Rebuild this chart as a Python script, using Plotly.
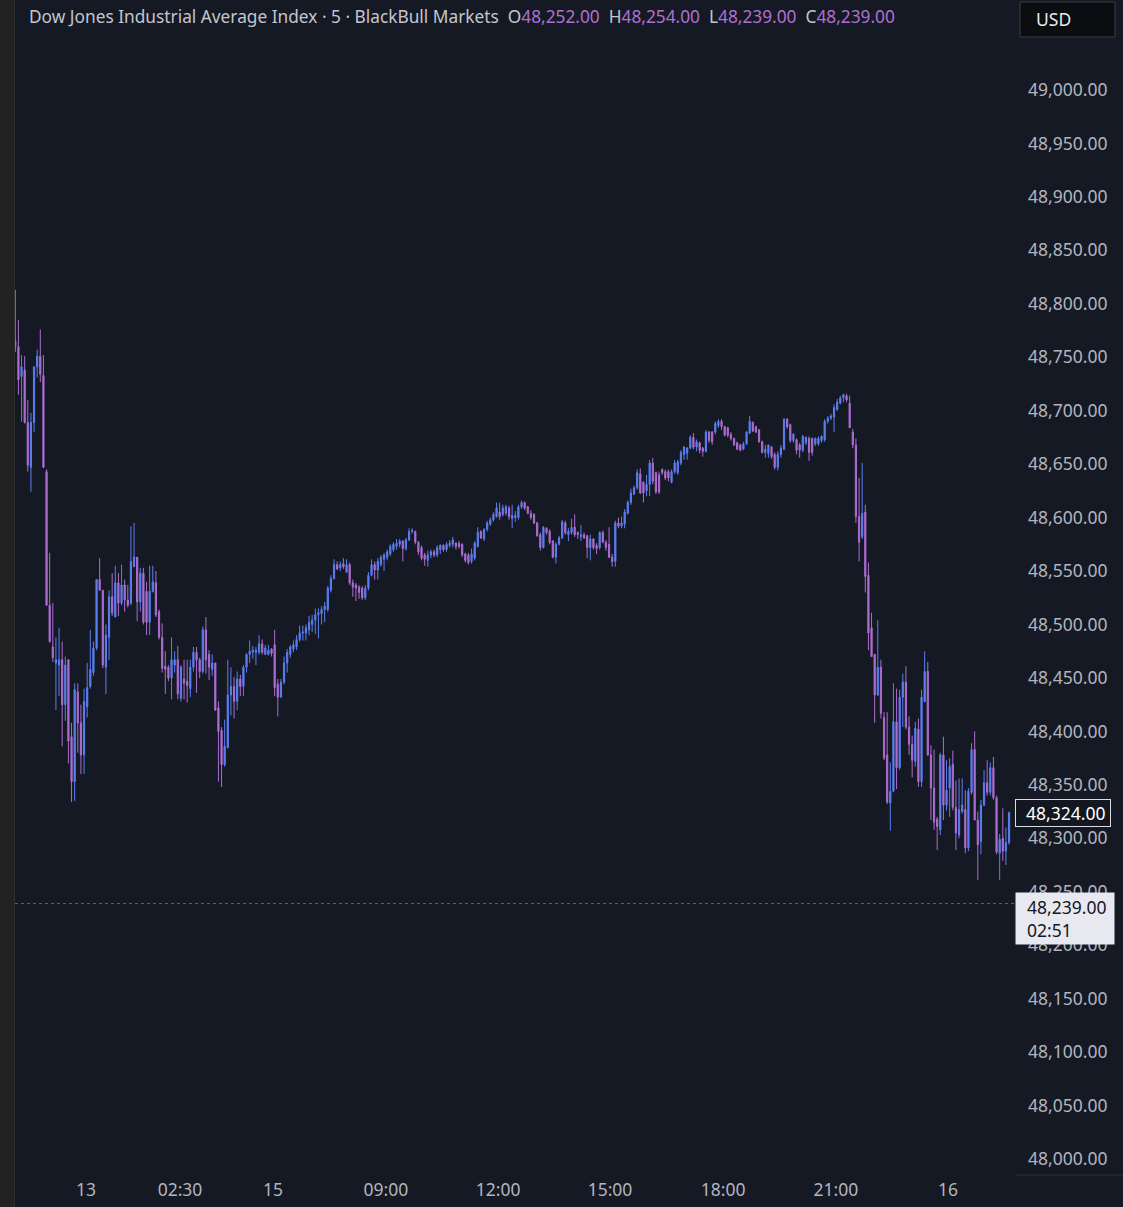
import plotly.graph_objects as go

# Dow Jones Industrial Average Index, 5-minute candles (BlackBull Markets)
# values, one entry per candle, left to right
opens = [
    48765, 48760, 48732, 48738, 48689, 48647, 48689, 48741, 48751, 48733,
    48643, 48518, 48479, 48464, 48462, 48467, 48425, 48467, 48395, 48353,
    48437, 48408, 48378, 48423, 48442, 48455, 48478, 48542, 48532, 48460,
    48488, 48526, 48507, 48539, 48520, 48537, 48523, 48520, 48554, 48563,
    48521, 48548, 48531, 48502, 48531, 48539, 48512, 48488, 48461, 48460,
    48450, 48462, 48467, 48431, 48449, 48447, 48440, 48460, 48474, 48467,
    48456, 48495, 48472, 48458, 48464, 48422, 48401, 48369, 48385, 48434,
    48442, 48428, 48449, 48442, 48460, 48472, 48474, 48474, 48474, 48482,
    48472, 48472, 48477, 48481, 48444, 48432, 48446, 48464, 48472, 48477,
    48479, 48486, 48492, 48492, 48495, 48500, 48504, 48509, 48510, 48514,
    48514, 48532, 48543, 48556, 48553, 48557, 48549, 48556, 48539, 48537,
    48535, 48534, 48525, 48534, 48546, 48556, 48551, 48556, 48561, 48563,
    48566, 48570, 48573, 48575, 48578, 48571, 48579, 48587, 48587, 48577,
    48572, 48565, 48560, 48565, 48568, 48565, 48570, 48574, 48570, 48574,
    48575, 48576, 48576, 48575, 48566, 48565, 48559, 48562, 48573, 48587,
    48580, 48589, 48594, 48598, 48601, 48605, 48603, 48604, 48609, 48599,
    48600, 48600, 48610, 48614, 48610, 48604, 48603, 48595, 48584, 48572,
    48590, 48587, 48578, 48563, 48575, 48581, 48595, 48584, 48586, 48591,
    48586, 48582, 48584, 48583, 48572, 48580, 48574, 48572, 48586, 48577,
    48575, 48563, 48559, 48595, 48592, 48594, 48604, 48614, 48622, 48628,
    48641, 48633, 48625, 48631, 48651, 48642, 48640, 48645, 48643, 48643,
    48633, 48643, 48642, 48651, 48659, 48660, 48665, 48675, 48666, 48670,
    48665, 48662, 48680, 48680, 48680, 48686, 48690, 48685, 48684, 48678,
    48674, 48670, 48668, 48664, 48669, 48679, 48689, 48685, 48682, 48671,
    48661, 48660, 48666, 48659, 48647, 48659, 48664, 48692, 48687, 48672,
    48673, 48668, 48663, 48670, 48674, 48674, 48669, 48669, 48672, 48673,
    48690, 48693, 48694, 48701, 48707, 48712, 48714, 48707, 48680, 48668,
    48601, 48582, 48605, 48546, 48497, 48472, 48434, 48460, 48413, 48378,
    48333, 48344, 48409, 48366, 48432, 48446, 48404, 48388, 48372, 48402,
    48353, 48428, 48456, 48378, 48347, 48318, 48308, 48378, 48331, 48347,
    48369, 48329, 48303, 48325, 48327, 48291, 48343, 48383, 48317, 48297,
    48331, 48352, 48343, 48366, 48338, 48286, 48300, 48288, 48296,
]
highs = [
    48813, 48785, 48752, 48751, 48710, 48698, 48741, 48757, 48776, 48752,
    48645, 48567, 48520, 48488, 48497, 48484, 48470, 48467, 48408, 48445,
    48445, 48425, 48440, 48464, 48495, 48484, 48542, 48562, 48532, 48500,
    48532, 48548, 48555, 48548, 48556, 48542, 48537, 48592, 48595, 48563,
    48553, 48553, 48540, 48555, 48555, 48550, 48514, 48501, 48475, 48462,
    48488, 48475, 48480, 48462, 48467, 48467, 48467, 48479, 48479, 48469,
    48498, 48507, 48476, 48472, 48464, 48428, 48404, 48411, 48467, 48460,
    48451, 48456, 48453, 48462, 48473, 48485, 48480, 48479, 48490, 48486,
    48481, 48481, 48478, 48495, 48449, 48449, 48470, 48477, 48481, 48485,
    48490, 48499, 48499, 48500, 48508, 48509, 48515, 48515, 48517, 48521,
    48536, 48546, 48561, 48559, 48559, 48562, 48561, 48558, 48542, 48539,
    48537, 48536, 48537, 48549, 48561, 48559, 48562, 48565, 48567, 48570,
    48575, 48577, 48580, 48580, 48579, 48581, 48590, 48590, 48588, 48578,
    48574, 48567, 48569, 48570, 48570, 48574, 48575, 48575, 48577, 48579,
    48582, 48577, 48578, 48576, 48567, 48567, 48571, 48578, 48591, 48588,
    48590, 48597, 48600, 48605, 48614, 48614, 48612, 48612, 48611, 48612,
    48606, 48612, 48616, 48615, 48611, 48607, 48604, 48596, 48586, 48592,
    48591, 48589, 48579, 48577, 48583, 48598, 48597, 48590, 48599, 48603,
    48587, 48593, 48586, 48584, 48584, 48581, 48576, 48587, 48588, 48579,
    48591, 48566, 48597, 48600, 48601, 48608, 48616, 48627, 48630, 48645,
    48646, 48634, 48640, 48654, 48656, 48643, 48643, 48646, 48645, 48645,
    48645, 48654, 48654, 48663, 48667, 48666, 48677, 48679, 48673, 48671,
    48666, 48682, 48681, 48681, 48690, 48692, 48692, 48686, 48685, 48680,
    48675, 48671, 48669, 48671, 48681, 48695, 48690, 48686, 48683, 48672,
    48668, 48668, 48667, 48661, 48662, 48668, 48693, 48693, 48688, 48679,
    48674, 48670, 48677, 48676, 48676, 48675, 48675, 48676, 48677, 48692,
    48695, 48697, 48706, 48711, 48714, 48716, 48716, 48714, 48683, 48674,
    48637, 48651, 48612, 48558, 48511, 48472, 48504, 48467, 48418, 48418,
    48371, 48445, 48440, 48439, 48454, 48461, 48414, 48396, 48409, 48412,
    48439, 48475, 48465, 48387, 48383, 48320, 48380, 48395, 48373, 48375,
    48382, 48354, 48356, 48356, 48345, 48347, 48389, 48400, 48325, 48336,
    48364, 48373, 48371, 48376, 48340, 48304, 48328, 48310, 48325,
]
lows = [
    48755, 48715, 48690, 48688, 48643, 48624, 48680, 48731, 48727, 48647,
    48518, 48483, 48465, 48420, 48433, 48386, 48410, 48370, 48334, 48335,
    48380, 48360, 48360, 48413, 48440, 48452, 48476, 48532, 48459, 48435,
    48467, 48508, 48507, 48508, 48518, 48512, 48516, 48518, 48554, 48503,
    48512, 48500, 48490, 48490, 48530, 48507, 48486, 48455, 48435, 48447,
    48430, 48455, 48430, 48428, 48430, 48427, 48432, 48456, 48436, 48450,
    48454, 48454, 48448, 48452, 48419, 48353, 48348, 48367, 48384, 48415,
    48412, 48420, 48433, 48433, 48455, 48464, 48468, 48462, 48472, 48472,
    48472, 48471, 48470, 48433, 48414, 48432, 48444, 48455, 48469, 48474,
    48476, 48484, 48485, 48485, 48490, 48493, 48491, 48487, 48500, 48502,
    48512, 48530, 48542, 48551, 48550, 48552, 48548, 48537, 48526, 48522,
    48524, 48523, 48523, 48532, 48545, 48542, 48542, 48554, 48550, 48560,
    48564, 48568, 48570, 48572, 48559, 48569, 48578, 48585, 48575, 48565,
    48560, 48555, 48554, 48562, 48563, 48563, 48566, 48568, 48568, 48572,
    48572, 48570, 48571, 48563, 48558, 48556, 48557, 48560, 48572, 48580,
    48578, 48587, 48592, 48596, 48600, 48598, 48601, 48602, 48598, 48590,
    48596, 48598, 48608, 48607, 48603, 48598, 48594, 48582, 48569, 48571,
    48584, 48575, 48562, 48557, 48574, 48580, 48584, 48578, 48584, 48582,
    48580, 48578, 48580, 48562, 48560, 48570, 48566, 48570, 48576, 48569,
    48562, 48554, 48554, 48590, 48590, 48590, 48603, 48612, 48621, 48626,
    48622, 48614, 48620, 48620, 48631, 48622, 48622, 48640, 48635, 48634,
    48632, 48641, 48640, 48649, 48654, 48654, 48664, 48664, 48662, 48660,
    48657, 48661, 48670, 48668, 48678, 48684, 48682, 48676, 48675, 48672,
    48667, 48663, 48662, 48663, 48668, 48678, 48680, 48679, 48670, 48660,
    48656, 48656, 48655, 48645, 48644, 48656, 48663, 48683, 48670, 48670,
    48659, 48656, 48661, 48668, 48653, 48658, 48667, 48667, 48670, 48671,
    48688, 48691, 48680, 48700, 48706, 48708, 48708, 48684, 48665, 48595,
    48559, 48580, 48530, 48476, 48470, 48408, 48433, 48412, 48373, 48332,
    48307, 48343, 48346, 48364, 48404, 48402, 48378, 48357, 48367, 48348,
    48348, 48427, 48377, 48317, 48308, 48289, 48303, 48317, 48326, 48320,
    48326, 48289, 48300, 48323, 48286, 48288, 48341, 48317, 48261, 48285,
    48330, 48340, 48340, 48336, 48285, 48261, 48279, 48275, 48294,
]
closes = [
    48760, 48729, 48741, 48689, 48649, 48689, 48741, 48751, 48734, 48647,
    48518, 48484, 48469, 48467, 48467, 48425, 48462, 48391, 48353, 48439,
    48408, 48378, 48428, 48441, 48458, 48478, 48542, 48532, 48462, 48490,
    48526, 48511, 48539, 48520, 48537, 48523, 48518, 48559, 48563, 48521,
    48548, 48502, 48502, 48531, 48540, 48509, 48488, 48459, 48458, 48450,
    48467, 48467, 48435, 48460, 48445, 48443, 48460, 48474, 48467, 48456,
    48495, 48467, 48460, 48464, 48420, 48400, 48369, 48386, 48434, 48442,
    48428, 48449, 48442, 48460, 48472, 48475, 48476, 48476, 48482, 48474,
    48478, 48476, 48473, 48441, 48432, 48446, 48464, 48474, 48479, 48481,
    48486, 48492, 48493, 48497, 48502, 48504, 48509, 48511, 48514, 48517,
    48534, 48543, 48556, 48552, 48556, 48554, 48556, 48539, 48535, 48534,
    48530, 48525, 48534, 48546, 48556, 48551, 48559, 48563, 48565, 48568,
    48573, 48575, 48576, 48578, 48571, 48579, 48587, 48588, 48577, 48568,
    48562, 48561, 48565, 48568, 48565, 48572, 48574, 48570, 48575, 48576,
    48579, 48573, 48573, 48565, 48560, 48558, 48566, 48576, 48586, 48581,
    48589, 48595, 48598, 48603, 48609, 48601, 48609, 48610, 48601, 48602,
    48602, 48610, 48614, 48609, 48604, 48600, 48595, 48583, 48572, 48591,
    48586, 48577, 48563, 48575, 48581, 48596, 48586, 48587, 48591, 48584,
    48584, 48584, 48581, 48572, 48580, 48572, 48571, 48586, 48577, 48572,
    48563, 48559, 48595, 48592, 48595, 48605, 48614, 48623, 48628, 48642,
    48623, 48623, 48631, 48651, 48634, 48624, 48624, 48642, 48637, 48637,
    48643, 48651, 48652, 48661, 48666, 48665, 48675, 48666, 48671, 48663,
    48662, 48680, 48672, 48671, 48688, 48690, 48685, 48677, 48677, 48674,
    48668, 48664, 48663, 48669, 48680, 48690, 48681, 48680, 48671, 48661,
    48664, 48668, 48657, 48647, 48659, 48665, 48692, 48685, 48672, 48678,
    48663, 48663, 48676, 48675, 48661, 48661, 48674, 48674, 48676, 48690,
    48693, 48695, 48703, 48708, 48712, 48715, 48710, 48684, 48668, 48601,
    48577, 48604, 48545, 48492, 48470, 48434, 48460, 48417, 48375, 48334,
    48344, 48409, 48366, 48432, 48446, 48404, 48388, 48373, 48403, 48353,
    48432, 48456, 48378, 48347, 48315, 48311, 48378, 48331, 48345, 48367,
    48329, 48305, 48327, 48331, 48291, 48344, 48383, 48317, 48294, 48331,
    48352, 48343, 48366, 48338, 48287, 48299, 48288, 48296, 48324,
]

# time axis labels (bar positions)
time_ticks = [22.6, 52.7, 82.5, 118.6, 154.5, 190.3, 226.5, 262.6, 298.5]
time_labels = ["13", "02:30", "15", "09:00", "12:00", "15:00", "18:00", "21:00", "16"]

price_ticks = list(range(48000, 49001, 50))
last_close = 48324.00
price_line = 48239.00
countdown = "02:51"
bar_o, bar_h, bar_l, bar_c = 48252.00, 48254.00, 48239.00, 48239.00

W, H = 1123, 1207
BG = "#151924"
UP = "#5b7ff2"
DOWN = "#ad6dd1"
TXT = "#b2b5be"
FONT = "Noto Sans"
FS = 17.5

fig = go.Figure()
fig.add_trace(go.Candlestick(
    x=list(range(len(closes))),
    open=opens, high=highs, low=lows, close=closes,
    increasing=dict(line=dict(color=UP, width=1), fillcolor=UP),
    decreasing=dict(line=dict(color=DOWN, width=1), fillcolor=DOWN),
    hoverinfo="skip",
))

# dotted last-price line
fig.add_shape(type="line", xref="paper", yref="y", x0=15/W, x1=1015/W,
              y0=price_line, y1=price_line,
              line=dict(color="#5d606b", width=1, dash="dot"))
# left window strip
fig.add_shape(type="rect", xref="paper", yref="paper", x0=0, x1=14/W, y0=0, y1=1,
              fillcolor="#222222", line_width=0, layer="above")
fig.add_shape(type="line", xref="paper", yref="paper", x0=14.5/W, x1=14.5/W, y0=0, y1=1,
              line=dict(color="#2f2f2f", width=1))
fig.add_shape(type="line", xref="paper", yref="paper", x0=1015/W, x1=1, y0=(H-1175)/H, y1=(H-1175)/H,
              line=dict(color="#2a2e39", width=1))
# currency button
fig.add_shape(type="rect", xref="paper", yref="paper", x0=1020/W, x1=1115/W,
              y0=1-37/H, y1=1-2/H, fillcolor="#0c0d11",
              line=dict(color="#3b3e47", width=1))

def fmt(v):
    return f"{v:,.2f}"

purple = "#b06fd3"
header = ("Dow Jones Industrial Average Index · 5 · BlackBull Markets&nbsp;&nbsp;"
          f"O<span style='color:{purple}'>{fmt(bar_o)}</span>&nbsp;&nbsp;"
          f"H<span style='color:{purple}'>{fmt(bar_h)}</span>&nbsp;&nbsp;"
          f"L<span style='color:{purple}'>{fmt(bar_l)}</span>&nbsp;&nbsp;"
          f"C<span style='color:{purple}'>{fmt(bar_c)}</span>")

annotations = [
    dict(text=header, xref="paper", yref="paper", x=27/W, y=1-17/H,
         xanchor="left", yanchor="middle", showarrow=False,
         font=dict(family=FONT, size=17.3, color="#c3c6ce")),
    dict(text="USD", xref="paper", yref="paper", x=1034/W, y=1-19/H,
         xanchor="left", yanchor="middle", showarrow=False,
         font=dict(family=FONT, size=FS, color="#e8e9ed")),
    dict(text="&nbsp;&nbsp;" + fmt(last_close), xref="paper", yref="y",
         x=1015/W, y=last_close, xanchor="left", yanchor="middle",
         showarrow=False, align="left", width=92, borderpad=1,
         bgcolor="#131722", bordercolor="#d9dbe2", borderwidth=1,
         font=dict(family=FONT, size=FS, color="#ffffff")),
    dict(text=f"&nbsp;&nbsp;{fmt(price_line)}<br>&nbsp;&nbsp;{countdown}",
         xref="paper", yref="y", x=1015/W, y=price_line,
         xanchor="left", yanchor="top", yshift=11,
         showarrow=False, align="left", width=94, borderpad=2,
         bgcolor="#e8e8f0",
         font=dict(family=FONT, size=FS, color="#131722")),
]

fig.update_layout(
    width=W, height=H,
    margin=dict(l=0, r=0, t=0, b=0),
    paper_bgcolor=BG, plot_bgcolor=BG,
    showlegend=False, hovermode=False, boxgap=0.45,
    font=dict(family=FONT, size=FS, color=TXT),
    annotations=annotations,
    xaxis=dict(domain=[15/W, 1015/W], range=[-0.096, 319.904],
               tickvals=time_ticks, ticktext=time_labels,
               showgrid=False, zeroline=False, showline=False, ticks="",
               ticklabelstandoff=5, rangeslider=dict(visible=False),
               tickfont=dict(family=FONT, size=FS, color=TXT)),
    yaxis=dict(domain=[(H-1172)/H, 1], range=[47987.8, 49084.2], side="right",
               tickvals=price_ticks, ticktext=[fmt(v) for v in price_ticks],
               showgrid=False, zeroline=False, showline=False, ticks="",
               ticklabelstandoff=12,
               tickfont=dict(family=FONT, size=FS, color=TXT)),
)

# drop the browser's default page margin so the figure sits at the window origin
fig.write_html("out.html", config={"displayModeBar": False},
               post_script="document.body.style.margin='0';"
                           "document.body.style.background='#151924';")
